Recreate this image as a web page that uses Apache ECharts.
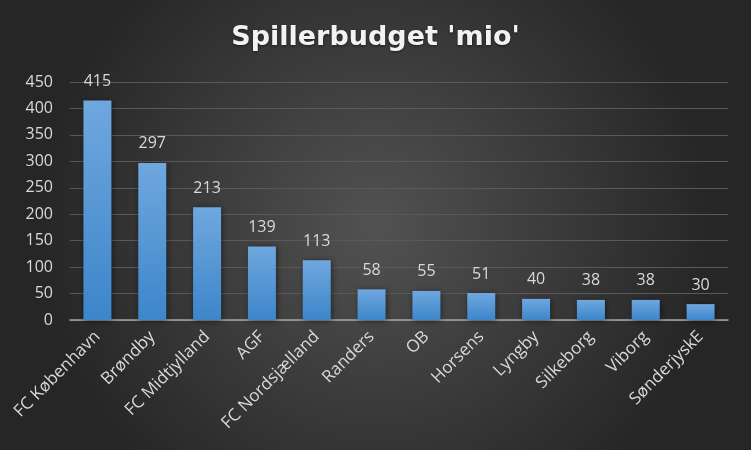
<!DOCTYPE html>
<html><head><meta charset="utf-8">
<script src="https://cdn.jsdelivr.net/npm/echarts@6/dist/echarts.min.js"></script>
<style>html,body{margin:0;padding:0;background:#333;}#c{width:751px;height:450px;}</style>
</head><body><div id="c"></div>
<script>
var categories = ['FC København','Brøndby','FC Midtjylland','AGF','FC Nordsjælland','Randers','OB','Horsens','Lyngby','Silkeborg','Viborg','SønderjyskE'];
var values = [415,297,213,139,113,58,55,51,40,38,38,30];
var yTicks = {min:0, max:450, interval:50};
var chart = echarts.init(document.getElementById('c'));
chart.setOption({
  backgroundColor: {type:'radial', x:0.5, y:0.5, r:0.75, colorStops:[{offset:0,color:'#525252'},{offset:1,color:'#262626'}]},
  title: {text:"Spillerbudget 'mio'", left:'center', top:19,
    textStyle:{color:'#f2f2f2', fontSize:27, fontWeight:'bold', fontFamily:'DejaVu Sans',
      textShadowColor:'rgba(0,0,0,0.5)', textShadowBlur:3, textShadowOffsetY:1}},
  grid: {left:70, right:23, top:82, bottom:130},
  xAxis: {type:'category', data:categories,
    axisLine:{lineStyle:{color:'#a6a6a6', width:1.5}}, axisTick:{show:false},
    axisLabel:{rotate:45, color:'#d9d9d9', fontSize:17, fontFamily:'Open Sans', margin:14, interval:0}},
  yAxis: {type:'value', min:yTicks.min, max:yTicks.max, interval:yTicks.interval,
    axisLine:{show:false}, axisTick:{show:false},
    splitLine:{lineStyle:{color:'#595959', width:1}},
    axisLabel:{color:'#d9d9d9', fontSize:16, fontFamily:'Open Sans', margin:17}},
  series: [{type:'bar', data:values, barWidth:28,
    itemStyle:{color:{type:'linear',x:0,y:0,x2:0,y2:1,colorStops:[{offset:0,color:'#6fa7de'},{offset:1,color:'#3d86ca'}]},
      shadowColor:'rgba(0,0,0,0.5)', shadowBlur:6, shadowOffsetX:1, shadowOffsetY:1},
    label:{show:true, position:'top', distance:11, color:'#d9d9d9', fontSize:16, fontFamily:'Open Sans'}}]
});
</script></body></html>
